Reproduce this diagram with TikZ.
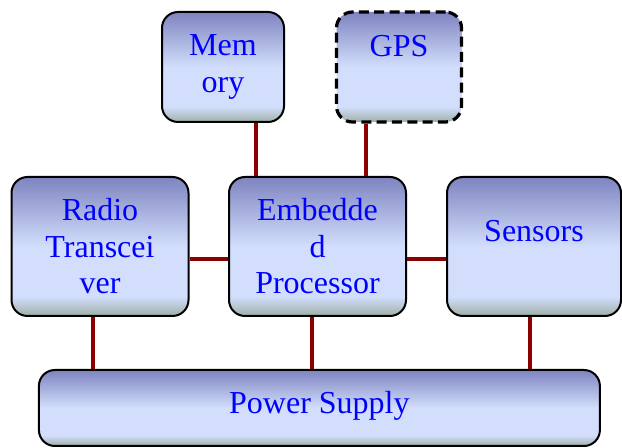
\documentclass[tikz,border=0pt]{standalone}
\usepackage{fontspec}
\setmainfont{Liberation Serif}
\newfontfamily\blockfont{Liberation Serif}
\usetikzlibrary{positioning}
\definecolor{shtop}{HTML}{7E84C0}
\definecolor{shmid}{HTML}{D2DEFC}
\definecolor{shbot}{HTML}{9EB0A6}
\definecolor{wirered}{HTML}{8B0000}
\pgfdeclareverticalshading{blockshade}{100bp}{color(0bp)=(shbot); color(25bp)=(shbot);
  color(32bp)=(shmid); color(50bp)=(shmid); color(75bp)=(shtop); color(100bp)=(shtop)}
\tikzset{
  block/.style={rounded corners=12pt, draw=black, line width=1.5pt, shading=blockshade,
    text=blue, align=center, inner sep=0pt, font=\blockfont\fontsize{24}{27.4}\selectfont},
  optional/.style={block, line width=2.4pt, dash pattern=on 7.5pt off 4pt},
  boxsize/.style 2 args={minimum width=#1*0.75pt, minimum height=#2*0.75pt},
  wire/.style={draw=wirered, line width=2.6pt},
}

\begin{document}
\begin{tikzpicture}[x=0.75pt, y=-0.75pt]
\useasboundingbox (0,0) rectangle (622,448);
\node[block, boxsize={122}{110}] (mem) at (223,67) {Mem\\ory};
\node[optional, boxsize={125}{110}, text height=15.9pt, text depth=31.5pt] (gps) at (399,67) {GPS};
\node[block, boxsize={177}{139}] (rad) at (100,246.5) {Radio\\Transcei\\ver};
\node[block, boxsize={177}{139}] (emb) at (317.5,246.5) {Embedde\\d\\Processor};
\node[block, boxsize={174}{139}, text height=15.9pt, text depth=23.2pt] (sen) at (534,246.5) {Sensors};
\node[block, boxsize={561}{76}, text height=15.9pt, text depth=8.2pt] (pwr) at (319.4,408) {Power Supply};

\draw[wire] ([xshift=24.75pt]mem.south) -- ([xshift=24.75pt]mem.south |- emb.north);
\draw[wire] ([xshift=-24.75pt]gps.south) -- ([xshift=-24.75pt]gps.south |- emb.north);
\draw[wire] ([yshift=-9.4pt]rad.east) -- ([yshift=-9.4pt]rad.east -| emb.west);
\draw[wire] ([yshift=-9.4pt]emb.east) -- ([yshift=-9.4pt]emb.east -| sen.west);
\draw[wire] ([xshift=-5.25pt]rad.south) -- ([xshift=-5.25pt]rad.south |- pwr.north);
\draw[wire] ([xshift=-4.1pt]emb.south) -- ([xshift=-4.1pt]emb.south |- pwr.north);
\draw[wire] ([xshift=-3pt]sen.south) -- ([xshift=-3pt]sen.south |- pwr.north);
\end{tikzpicture}
\end{document}
